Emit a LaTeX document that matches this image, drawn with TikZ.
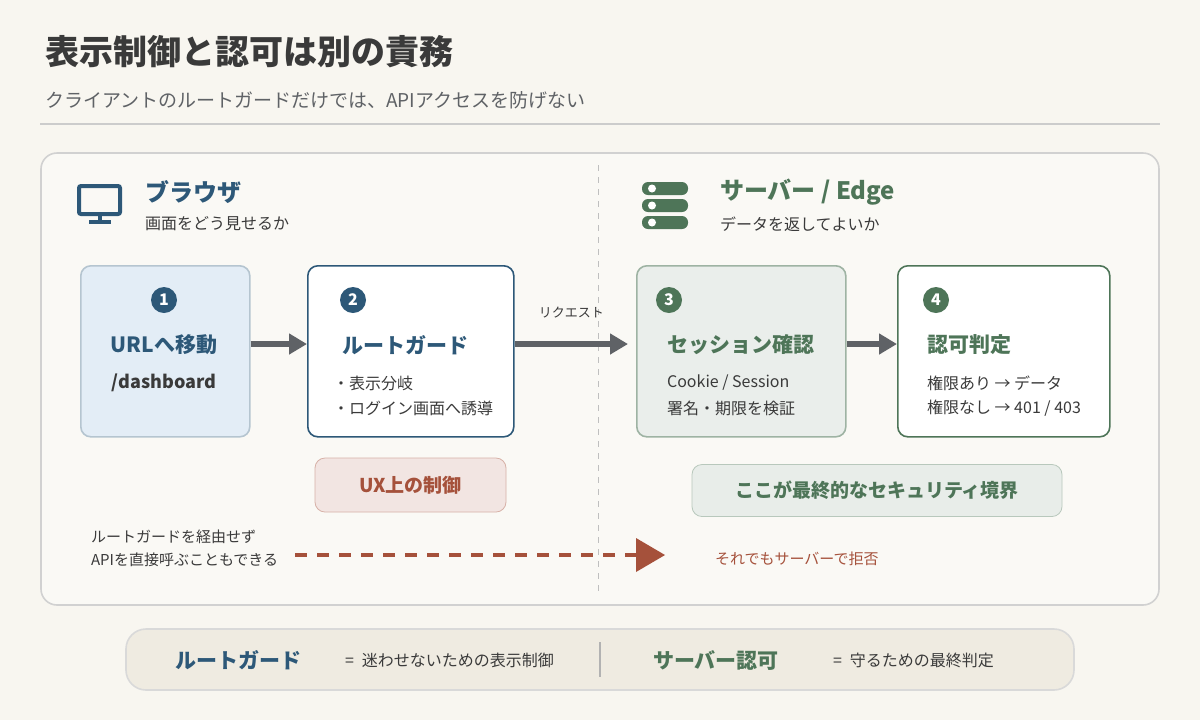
\documentclass[tikz,border=0pt]{standalone}
\usepackage{fontspec}
\setmainfont{Noto Sans CJK JP}
\usetikzlibrary{arrows.meta,positioning}
\definecolor{PageBg}{HTML}{F8F6F0}
\definecolor{PanelBg}{HTML}{FAF9F5}
\definecolor{MyBlue}{HTML}{2D5878}
\definecolor{MyGreen}{HTML}{4E7558}
\definecolor{MyRed}{HTML}{A5513B}
\definecolor{MyGray}{HTML}{5F6266}
\definecolor{MyText}{HTML}{3A3A3A}
\definecolor{LightBlue}{HTML}{E3EDF6}
\definecolor{LegendBg}{HTML}{EFEBE1}
\tikzset{
    >=latex
}

\begin{document}
\begin{tikzpicture}[x=0.5pt,y=-0.5pt,
    stage/.style={draw,rounded corners=5pt,line width=0.8pt,anchor=north west},
    num/.style={circle,fill=#1,text=white,font=\bfseries\fontsize{8}{8}\selectfont,inner sep=0pt,minimum size=13pt},
    head/.style={anchor=west,font=\bfseries\fontsize{10.5}{12}\selectfont},
    body/.style={anchor=west,font=\fontsize{8}{10}\selectfont,text=MyText},
    flow/.style={-{Triangle[length=9pt,width=10pt]},line width=3pt,MyGray}
    ]
    \fill[PageBg] (0,0) rectangle (1200,720);
    \useasboundingbox (0,0) rectangle (1200,720);

    % title
    \node[anchor=west,font=\bfseries\fontsize{17}{20}\selectfont,text=MyText] (title) at (38,52) {表示制御と認可は別の責務};
    \node[anchor=west,font=\fontsize{9.5}{12}\selectfont,text=MyGray] (subtitle) at (38,100) {クライアントのルートガードだけでは、APIアクセスを防げない};
    \draw[black!20,line width=0.6pt] (40,124) -- (1160,124);

    % panel
    \draw[black!18,fill=PanelBg,rounded corners=8pt,line width=0.8pt] (41,153) rectangle (1159,605);
    \draw[black!25,dashed,line width=0.5pt] (598,165) -- (598,592);

    % browser side
    \draw[MyBlue,line width=2pt,rounded corners=1pt] (79,186) rectangle (120,214);
    \draw[MyBlue,line width=2pt] (100,214) -- (100,221);
    \draw[MyBlue,line width=2pt] (89,222) -- (111,222);
    \node[head,text=MyBlue,font=\bfseries\fontsize{12}{14}\selectfont] (browser) at (138,192) {ブラウザ};
    \node[body] (browserSub) at (138,224) {画面をどう見せるか};

    % server side
    \foreach \y in {182,199,216} {
        \fill[MyGreen,rounded corners=3pt] (642,\y) rectangle (688,\y+13);
        \fill[white] (652,\y+6.5) circle (2pt);
    }
    \node[head,text=MyGreen,font=\bfseries\fontsize{12}{14}\selectfont] (server) at (713,192) {サーバー / Edge};
    \node[body] (serverSub) at (713,224) {データを返してよいか};

    % stages
    \node[stage,draw=MyBlue!35,fill=LightBlue,minimum width=84.5pt,minimum height=85.5pt] (s1) at (80,265) {};
    \node[stage,draw=MyBlue,fill=white,minimum width=103pt,minimum height=85.5pt] (s2) at (307,265) {};
    \node[stage,draw=MyGreen!55,fill=MyGreen!12,minimum width=104.5pt,minimum height=85.5pt] (s3) at (636,265) {};
    \node[stage,draw=MyGreen,fill=white,minimum width=106pt,minimum height=85.5pt] (s4) at (897,265) {};

    \node[num=MyBlue] (n1) at (164,300) {1};
    \node[head,anchor=center,text=MyBlue] (t1) at (164,345) {URLへ移動};
    \node[head,anchor=center,text=MyText,font=\bfseries\fontsize{9}{11}\selectfont] (b1) at (164,383) {/dashboard};

    \node[num=MyBlue] (n2) at (353,300) {2};
    \node[head,text=MyBlue] (t2) at (335,345) {ルートガード};
    \node[body] (b2a) at (326,383) {・表示分岐};
    \node[body] (b2b) at (326,408) {・ログイン画面へ誘導};

    \node[num=MyGreen] (n3) at (669,300) {3};
    \node[head,text=MyGreen] (t3) at (660,345) {セッション確認};
    \node[body] (b3a) at (660,383) {Cookie / Session};
    \node[body] (b3b) at (660,408) {署名・期限を検証};

    \node[num=MyGreen] (n4) at (936,300) {4};
    \node[head,text=MyGreen] (t4) at (920,345) {認可判定};
    \node[body] (b4a) at (920,383) {権限あり → データ};
    \node[body] (b4b) at (920,408) {権限なし → 401 / 403};

    \draw[flow] (s1.east |- 0,344) -- (s2.west |- 0,344);
    \draw[flow] (s2.east |- 0,344) -- (628,344) node[midway,above=8pt,font=\fontsize{6.5}{8}\selectfont,text=MyText] (req) {リクエスト};
    \draw[flow] (s3.east |- 0,344) -- (s4.west |- 0,344);

    % notes
    \node[draw=MyRed!45,fill=MyRed!15,rounded corners=5pt,minimum width=95.5pt,minimum height=27pt,text=MyRed,font=\bfseries\fontsize{9.5}{11}\selectfont] (ux) at (410.5,485) {UX上の制御};
    \node[draw=MyGreen!40,fill=MyGreen!13,rounded corners=5pt,minimum width=185pt,minimum height=26pt,text=MyGreen,font=\bfseries\fontsize{9.5}{11}\selectfont] (sec) at (877,490.5) {ここが最終的なセキュリティ境界};

    \node[body,align=left,font=\fontsize{7.5}{11.5}\selectfont] (bypass) at (84,548) {ルートガードを経由せず\\APIを直接呼ぶこともできる};
    \coordinate (dashStart) at (295,555);
    \coordinate (dashEnd) at (665,555);
    \draw[MyRed,dashed,line width=1.6pt,dash pattern=on 6pt off 5pt] (dashStart) -- (638,555);
    \fill[MyRed] (636,538) -- (dashEnd) -- (636,572) -- cycle;
    \node[body,text=MyRed,font=\fontsize{7.5}{9}\selectfont] (deny) at (708,559) {それでもサーバーで拒否};

    % legend
    \draw[black!15,fill=LegendBg,rounded corners=10pt,line width=0.8pt] (126,629) rectangle (1074,690);
    \draw[black!30,line width=0.6pt] (600,642) -- (600,677);
    \node[head,anchor=center,text=MyBlue] (lg1) at (238,660) {ルートガード};
    \node[body] (lg1t) at (338,660) {=\; 迷わせないための表示制御};
    \node[head,anchor=center,text=MyGreen] (lg2) at (716,660) {サーバー認可};
    \node[body] (lg2t) at (826,660) {=\; 守るための最終判定};
\end{tikzpicture}
\end{document}
